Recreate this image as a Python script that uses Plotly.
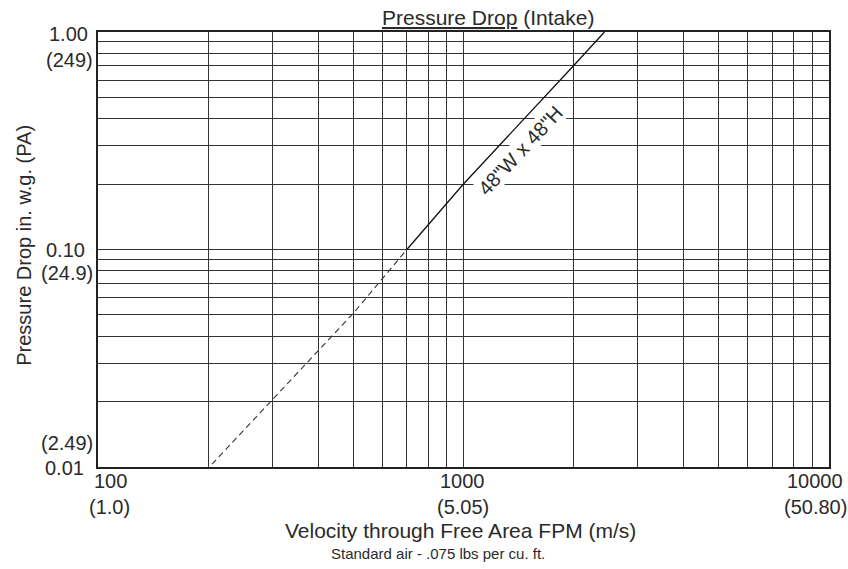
import plotly.graph_objects as go

# ---- data ----
dashed_v = [205, 300, 500, 700]
dashed_p = [0.0103, 0.0204, 0.051, 0.10]
solid_v = [700, 1000, 2000, 2430]
solid_p = [0.10, 0.20, 0.70, 1.00]

x_grid = [100, 200, 300, 400, 500, 600, 700, 800, 900,
          1000, 2000, 3000, 4000, 5000, 6000, 7000, 8000, 9000, 10000]
y_grid = [0.01, 0.02, 0.03, 0.04, 0.05, 0.06, 0.07, 0.08, 0.09,
          0.1, 0.2, 0.3, 0.4, 0.5, 0.6, 0.7, 0.8, 0.9, 1.0]

x_tick_labels = ["100", "1000", "10000"]
x_tick_metric = ["(1.0)", "(5.05)", "(50.80)"]
y_tick_labels = ["1.00", "0.10", "0.01"]
y_tick_metric = ["(249)", "(24.9)", "(2.49)"]
series_label = '48"W x 48"H'

FONT = "Liberation Sans, Arial, sans-serif"
TXT = "#2a2a2a"
W, H = 848, 569
PL, PR, PT, PB = 98, 829, 32, 467.5  # plot box in screen pixels
PW, PH = PR - PL, PB - PT
L, T = PL, PT
R, B = W - PR, H - PB


def px(xp):
    return (xp - PL) / PW


def py(yp):
    return (PB - yp) / PH


fig = go.Figure()
fig.add_trace(go.Scatter(x=dashed_v, y=dashed_p, mode="lines",
                         line=dict(color="#333", width=1.1, dash="6px,4px"),
                         showlegend=False, hoverinfo="skip"))
fig.add_trace(go.Scatter(x=solid_v, y=solid_p, mode="lines",
                         line=dict(color="#111", width=1.3),
                         showlegend=False, hoverinfo="skip"))

ann = []


def add(text, x, y, size=20, xanchor="center", yanchor="middle", **kw):
    ann.append(dict(text=text, x=x, y=y, xref="paper", yref="paper",
                    showarrow=False, xanchor=xanchor, yanchor=yanchor,
                    font=dict(family=FONT, size=size, color=TXT), **kw))


# y tick labels
add(y_tick_labels[0], px(90), py(34), xanchor="right")
add(y_tick_metric[0], px(95), py(60), xanchor="right")
add(y_tick_labels[1], px(87), py(250), xanchor="right")
add(y_tick_metric[1], px(95), py(273), xanchor="right")
add(y_tick_metric[2], px(95), py(443), xanchor="right")
add(y_tick_labels[2], px(86), py(469), xanchor="right")

# x tick labels
add(x_tick_labels[0], px(110.5), py(481.5))
add(x_tick_metric[0], px(109.5), py(508))
add(x_tick_labels[1], px(462.5), py(481.5))
add(x_tick_metric[1], px(462.5), py(508))
add(x_tick_labels[2], px(815), py(481.5))
add(x_tick_metric[2], px(815), py(508))

# titles
add("<u>Pressure Drop</u> (Intake)", px(488), py(17), size=21)
add("Velocity through Free Area FPM (m/s)", px(460.5), py(531), size=21)
add("Standard air - .075 lbs per cu. ft.", px(437.7), py(554), size=15)
add("Pressure Drop in. w.g. (PA)", px(24), py(246), size=20, textangle=-90)

# series label along line
add(series_label, px(520), py(151), size=20, textangle=-47,
    bgcolor="white", borderpad=0)

fig.update_layout(
    width=W, height=H,
    margin=dict(l=L, r=R, t=T, b=B, pad=0),
    paper_bgcolor="white", plot_bgcolor="white",
    annotations=ann,
    xaxis=dict(type="log", range=[2, 4], tickvals=x_grid, showticklabels=False,
               ticks="", showgrid=True, gridcolor="#333", gridwidth=1.4,
               showline=True, linecolor="#222", linewidth=2, mirror=True,
               zeroline=False, fixedrange=True),
    yaxis=dict(type="log", range=[-2, 0], tickvals=y_grid, showticklabels=False,
               ticks="", showgrid=True, gridcolor="#333", gridwidth=1.4,
               showline=True, linecolor="#222", linewidth=2, mirror=True,
               zeroline=False, fixedrange=True),
)

fig.write_html("out.html", config={"displayModeBar": False},
               post_script="document.body.style.margin='0';"
                           "document.body.style.overflow='hidden';")
